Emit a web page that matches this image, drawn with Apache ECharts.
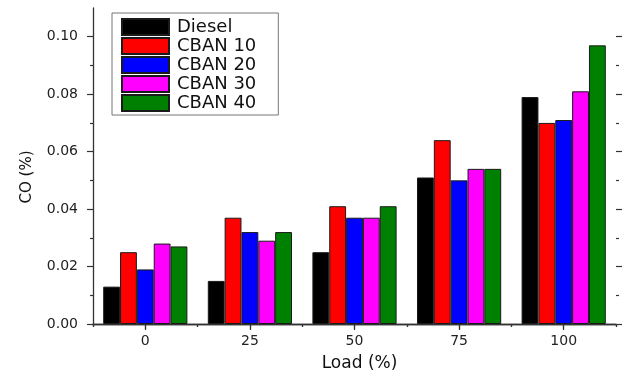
<!DOCTYPE html>
<html>
<head>
<meta charset="utf-8">
<script src="https://cdn.jsdelivr.net/npm/echarts@6/dist/echarts.min.js"></script>
<style>
  html, body { margin: 0; padding: 0; background: #fff; }
  #chart { width: 624px; height: 379px; }
</style>
</head>
<body>
<div id="chart"></div>
<script>
// Engine load categories (%)
const loads = ['0', '25', '50', '75', '100'];

// CO emissions (%) per fuel blend
const diesel = [0.013, 0.015, 0.025, 0.051, 0.079];
const cban10 = [0.025, 0.037, 0.041, 0.064, 0.070];
const cban20 = [0.019, 0.032, 0.037, 0.050, 0.071];
const cban30 = [0.028, 0.029, 0.037, 0.054, 0.081];
const cban40 = [0.027, 0.032, 0.041, 0.054, 0.097];

const seriesNames = ['Diesel', 'CBAN 10', 'CBAN 20', 'CBAN 30', 'CBAN 40'];
const seriesData = [diesel, cban10, cban20, cban30, cban40];
const seriesColors = ['#000000', '#ff0000', '#0000ff', '#ff00ff', '#008000'];

// Y axis ticks: labelled majors and unlabelled minors
const yMajor = [0, 0.02, 0.04, 0.06, 0.08, 0.10];
const yMinor = [0.01, 0.03, 0.05, 0.07, 0.09];

const FONT = 'DejaVu Sans';
const AXIS_COLOR = '#333';
const Y_MIN = 0, Y_MAX = 0.11;

const chart = echarts.init(document.getElementById('chart'), null, { renderer: 'canvas' });

function yAxisDef(position, ticks, len, main) {
  return {
    type: 'value',
    position: position,
    min: Y_MIN,
    max: Y_MAX,
    interval: 0.01,
    name: main ? 'CO (%)' : '',
    nameLocation: 'middle',
    nameRotate: 90,
    nameGap: 58,
    nameTextStyle: { fontFamily: FONT, fontSize: 15, color: '#111', padding: [0, 22, 0, 0] },
    axisLine: { show: main, lineStyle: { color: AXIS_COLOR, width: 1.3 } },
    axisTick: { show: true, inside: false, length: len, customValues: ticks,
                lineStyle: { color: AXIS_COLOR, width: 1.2 } },
    axisLabel: {
      show: main,
      customValues: yMajor,
      margin: 15,
      fontFamily: FONT,
      fontSize: 14,
      color: '#222',
      formatter: v => v.toFixed(2)
    },
    splitLine: { show: false }
  };
}

function xAxisDef(position, centered, len, inside, withLine, withLabels) {
  return {
    type: 'category',
    data: loads,
    position: position,
    boundaryGap: true,
    name: withLabels ? 'Load (%)' : '',
    nameLocation: 'middle',
    nameGap: 31,
    nameTextStyle: { fontFamily: FONT, fontSize: 17, color: '#111', padding: [0, 0, 0, 10] },
    axisLine: { show: withLine, lineStyle: { color: AXIS_COLOR, width: 1.3 } },
    axisTick: { show: true, alignWithLabel: centered, inside: inside, length: len,
                lineStyle: { color: AXIS_COLOR, width: 1.2 } },
    axisLabel: { show: withLabels, margin: 10, fontFamily: FONT, fontSize: 14, color: '#222' },
    splitLine: { show: false }
  };
}

const option = {
  backgroundColor: '#ffffff',
  animation: false,
  grid: { left: 93, right: 8, top: 8, bottom: 55, containLabel: false },
  legend: {
    orient: 'vertical',
    left: 112,
    top: 13,
    data: seriesNames,
    itemWidth: 47,
    itemHeight: 16,
    itemGap: 1,
    padding: [5, 22, 3, 9],
    borderColor: '#777',
    borderWidth: 1,
    icon: 'rect',
    textStyle: { fontFamily: FONT, fontSize: 18, color: '#111', height: 16, lineHeight: 16, padding: [0, 0, 0, 3] }
  },
  xAxis: [
    xAxisDef('bottom', true, 5, false, true, true),
    xAxisDef('bottom', false, 3, false, false, false),
    xAxisDef('top', true, 6, true, true, false),
    xAxisDef('top', false, 3, true, false, false)
  ],
  yAxis: [
    yAxisDef('left', yMajor, 6, true),
    yAxisDef('left', yMinor, 3, false),
    yAxisDef('right', yMajor, 6, false),
    yAxisDef('right', yMinor, 3, false)
  ],
  series: seriesNames.map((name, i) => ({
    name: name,
    type: 'bar',
    xAxisIndex: 0,
    yAxisIndex: 0,
    data: seriesData[i],
    barGap: '0%',
    barCategoryGap: '19.5%',
    itemStyle: { color: seriesColors[i], borderColor: '#1a1a1a', borderWidth: 1 },
    emphasis: { disabled: true }
  }))
};

chart.setOption(option);
</script>
</body>
</html>
